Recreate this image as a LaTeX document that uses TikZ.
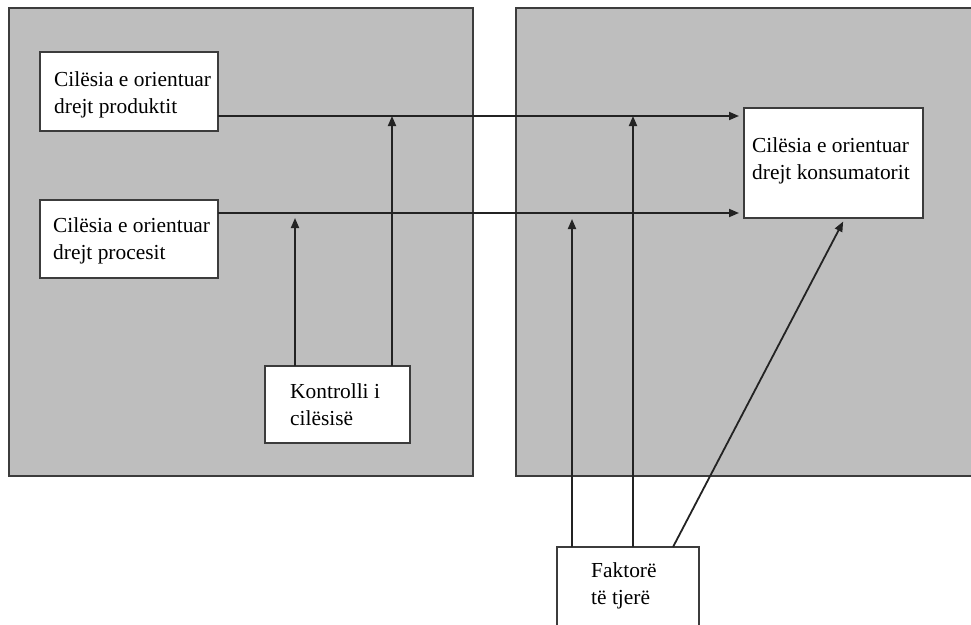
\documentclass[tikz,border=0pt]{standalone}
\usepackage{fontspec}
\setmainfont{Liberation Serif}
\usetikzlibrary{arrows.meta,calc}

\definecolor{panelgray}{RGB}{190,190,190}
\definecolor{edgegray}{RGB}{60,60,60}
\definecolor{linegray}{RGB}{35,35,35}

\tikzset{
  panel/.style={draw=edgegray, line width=2pt, fill=panelgray, rectangle, anchor=north west, inner sep=0pt, outer sep=0pt},
  whitebox/.style={draw=edgegray, line width=1.8pt, fill=white, rectangle, anchor=north west, inner sep=0pt, outer sep=0pt},
  boxtext/.style={anchor=north west, inner sep=0pt, align=left, text=black,
                  font=\fontsize{21.4pt}{27pt}\selectfont},
  flow/.style={draw=linegray, line width=1.8pt, -{Triangle[length=10pt,width=8pt]}},
}

\begin{document}
\begin{tikzpicture}[x=1pt,y=-1pt]
  \useasboundingbox (0,0) rectangle (971,624);

  % two shaded areas
  \node[panel, minimum width=464pt, minimum height=468pt] (lpanel) at (9,8) {};
  \node[panel, minimum width=470pt, minimum height=468pt] (rpanel) at (516,8) {};

  % boxes
  \node[whitebox, minimum width=178pt, minimum height=79pt] (prod) at (40,52) {};
  \node[whitebox, minimum width=178pt, minimum height=78pt] (proc) at (40,200) {};
  \node[whitebox, minimum width=145pt, minimum height=77pt] (ctrl) at (265,366) {};
  \node[whitebox, minimum width=179pt, minimum height=110pt] (cons) at (744,108) {};
  \node[whitebox, minimum width=142pt, minimum height=90pt] (other) at (557,547) {};

  % box texts
  \node[boxtext] (prodtxt) at (54,71.4) {Cilësia e orientuar\\drejt produktit};
  \node[boxtext] (proctxt) at (53,217.4) {Cilësia e orientuar\\drejt procesit};
  \node[boxtext] (ctrltxt) at (290,383.4) {Kontrolli i\\cilësisë};
  \node[boxtext] (constxt) at (752,137.4) {Cilësia e orientuar\\drejt konsumatorit};
  \node[boxtext] (othertxt) at (591,562.4) {Faktorë\\të tjerë};

  % anchor points on the connectors
  \coordinate (rowA) at ($(prod.south east)+(0,-15)$);
  \coordinate (rowB) at ($(proc.north east)+(0,13)$);
  \coordinate (ctrlA) at ($(ctrl.north west)+(30,0)$);
  \coordinate (ctrlB) at ($(ctrl.north west)+(127,0)$);
  \coordinate (othA) at ($(other.north west)+(15,0)$);
  \coordinate (othB) at ($(other.north west)+(76,0)$);
  \coordinate (othC) at ($(other.north west)+(116,0)$);
  \coordinate (consIn) at ($(cons.south west)+(101,0)$);

  % main flows into the consumer-oriented box
  \draw[flow, shorten >=5pt] (rowA) -- (cons.west |- rowA);
  \draw[flow, shorten >=5pt] (rowB) -- (cons.west |- rowB);

  % quality control influences
  \draw[flow, shorten >=5pt] (ctrlA) -- (ctrlA |- rowB);
  \draw[flow] (ctrlB) -- (ctrlB |- rowA);

  % other factors
  \draw[flow, shorten >=6pt] (othA) -- (othA |- rowB);
  \draw[flow] (othB) -- (othB |- rowA);
  \draw[flow, shorten >=4pt] (othC) -- (consIn);
\end{tikzpicture}
\end{document}
